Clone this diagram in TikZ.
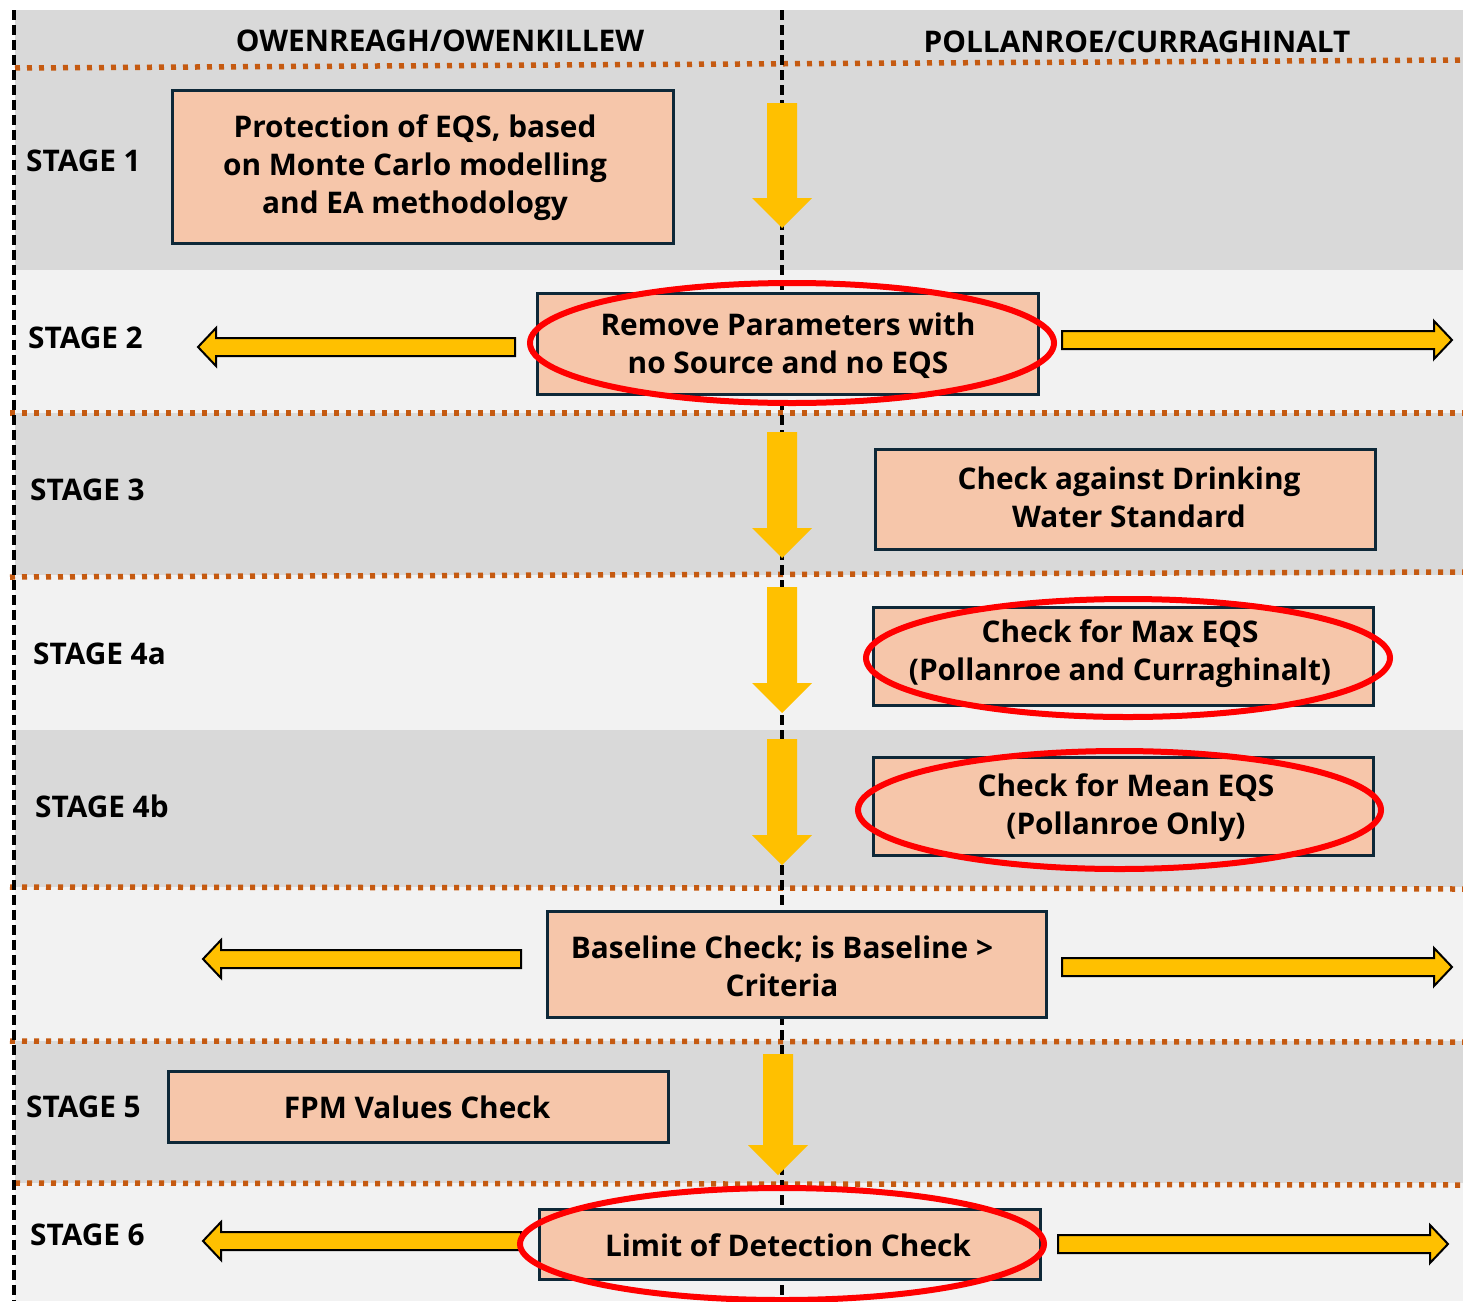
\documentclass[tikz,border=0pt]{standalone}
\usepackage{fontspec}
\setmainfont{Open Sans}
\usetikzlibrary{shapes.geometric}
\definecolor{bandA}{HTML}{D9D9D9}
\definecolor{bandB}{HTML}{F2F2F2}
\definecolor{boxfill}{HTML}{F6C6AA}
\definecolor{boxline}{HTML}{0E2838}
\definecolor{dotline}{HTML}{C55A11}
\definecolor{ayellow}{HTML}{FFC000}
\definecolor{ringred}{HTML}{FF0000}
\newcommand\hblock[4]{% tail x, head-base x, tip x, y
  \draw[harrowstyle] (#1,#4-9) -- (#2,#4-9) -- (#2,#4-19) -- (#3,#4) -- (#2,#4+19) -- (#2,#4+9) -- (#1,#4+9) -- cycle;}
\newcommand\vblock[4]{% x, top, head-base y, tip y
  \fill[ayellow] (#1-15,#2) -- (#1+15,#2) -- (#1+15,#3) -- (#1+30,#3) -- (#1,#4) -- (#1-30,#3) -- (#1-15,#3) -- cycle;}
\begin{document}
\begin{tikzpicture}[x=1pt,y=-1pt,
  txt/.style={font=\fontsize{29.8}{38}\selectfont\bfseries, text=black, align=center, inner sep=0pt},
  stagelbl/.style={txt, anchor=west},
  stagebox/.style={draw=boxline, line width=3pt, fill=boxfill, inner sep=0pt},
  ring/.style={ellipse, draw=ringred, line width=6pt, inner sep=0pt},
  harrowstyle/.style={fill=ayellow, draw=black, line width=2pt, line join=miter},
  dotsep/.style={dotline, line width=5.5pt, dash pattern=on 5pt off 7pt},
  vdash/.style={black, line width=3.5pt, dash pattern=on 10pt off 5pt}]
\useasboundingbox (0,0) rectangle (1463,1301);
\fill[white] (0,0) rectangle (1463,1301);
% bands
\fill[bandA] (15,10) rectangle (1463,67);
\fill[bandA] (15,67) rectangle (1463,270);
\fill[bandB] (15,270) rectangle (1463,413);
\fill[bandA] (15,413) rectangle (1463,575);
\fill[bandB] (15,575) rectangle (1463,730);
\fill[bandA] (15,730) rectangle (1463,887);
\fill[bandB] (15,887) rectangle (1463,1041);
\fill[bandA] (15,1041) rectangle (1463,1183);
\fill[bandB] (15,1183) rectangle (1463,1301);
% dotted separators
\draw[dotsep] (15,68) -- (1463,60);
\draw[dotsep] (10,413) -- (1463,413);
\draw[dotsep] (10,577) -- (1463,572);
\draw[dotsep] (10,887) -- (1463,889);
\draw[dotsep] (10,1041) -- (1463,1042);
\draw[dotsep] (15,1183) -- (1463,1185);
% dashed verticals
\draw[vdash] (14,10) -- (14,1301);
\draw[vdash] (782,10) -- (782,1301);
% headers
\node[txt] (hleft) at (440,41) {OWENREAGH/OWENKILLEW};
\node[txt] (hright) at (1137,42) {POLLANROE/CURRAGHINALT};
% stage labels
\node[stagelbl] (s1) at (26,161) {STAGE 1};
\node[stagelbl] (s2) at (28,338) {STAGE 2};
\node[stagelbl] (s3) at (30,490) {STAGE 3};
\node[stagelbl] (s4a) at (33,654) {STAGE 4a};
\node[stagelbl] (s4b) at (35,806) {STAGE 4b};
\node[stagelbl] (s5) at (26,1107) {STAGE 5};
\node[stagelbl] (s6) at (30,1235) {STAGE 6};
% vertical arrows
\vblock{782}{103}{198}{228}
\vblock{782}{432}{528}{558}
\vblock{782}{587}{683}{713}
\vblock{782}{739}{835}{865}
\vblock{778}{1054}{1145}{1175}
% boxes
\node[stagebox, minimum width=501pt, minimum height=153pt] (b1) at (422.5,166.5) {};
\node[txt] (b1t) at (415,168) {Protection of EQS, based\\on Monte Carlo modelling\\and EA methodology};
\node[stagebox, minimum width=501pt, minimum height=101pt] (b2) at (787.5,343.5) {};
\node[txt] (b2t) at (788,345.5) {Remove Parameters with\\no Source and no EQS};
\node[stagebox, minimum width=500pt, minimum height=100pt] (b3) at (1125,499) {};
\node[txt] (b3t) at (1129,497) {Check against Drinking\\Water Standard};
\node[stagebox, minimum width=500pt, minimum height=98pt] (b4a) at (1123,656) {};
\node[txt] (b4at) at (1120,653.5) {Check for Max EQS\\(Pollanroe and Curraghinalt)};
\node[stagebox, minimum width=500pt, minimum height=98pt] (b4b) at (1123,806) {};
\node[txt] (b4bt) at (1126,807.5) {Check for Mean EQS\\(Pollanroe Only)};
\node[stagebox, minimum width=499pt, minimum height=106pt] (bb) at (796.5,964) {};
\node[txt] (bbt) at (782,966) {Baseline Check; is Baseline >\\Criteria};
\node[stagebox, minimum width=500pt, minimum height=71pt] (b5) at (418,1106.5) {};
\node[txt] (b5t) at (417,1107) {FPM Values Check};
\node[stagebox, minimum width=501pt, minimum height=70pt] (b6) at (789.5,1244) {};
\node[txt] (b6t) at (788,1245) {Limit of Detection Check};
% horizontal arrows
\hblock{515}{216}{198}{347}
\hblock{1062}{1434}{1452}{340}
\hblock{521}{221}{203}{959}
\hblock{1062}{1434}{1452}{967}
\hblock{521}{221}{203}{1241}
\hblock{1058}{1430}{1448}{1244}
% red rings
\node[ring, minimum width=524pt, minimum height=120pt] (r2) at (792,343) {};
\node[ring, minimum width=524pt, minimum height=118pt] (r4a) at (1128,658) {};
\node[ring, minimum width=523pt, minimum height=118pt] (r4b) at (1119.5,810) {};
\node[ring, minimum width=524pt, minimum height=112pt] (r6) at (782,1244) {};
\end{tikzpicture}
\end{document}
